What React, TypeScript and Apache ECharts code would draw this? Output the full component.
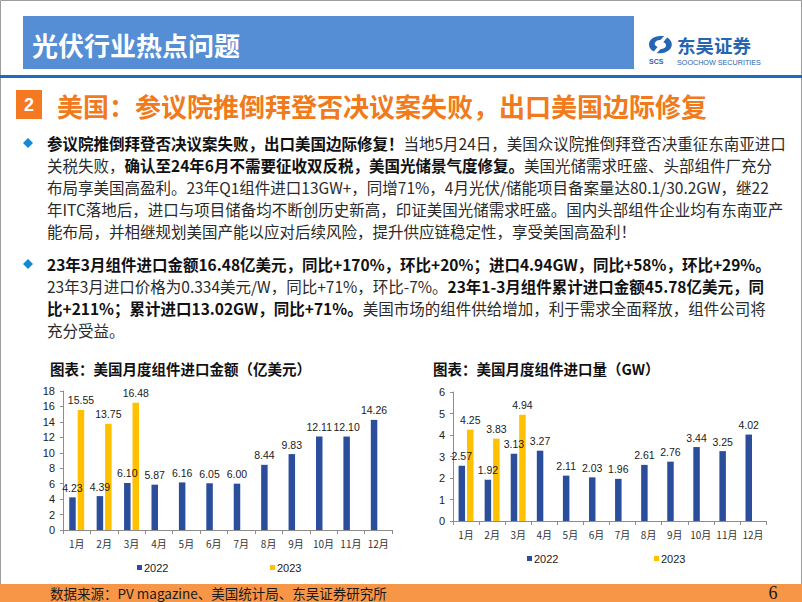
import React, { useEffect, useRef } from 'react';
import * as echarts from 'echarts';

// ---------- data ----------
const months = ['1月', '2月', '3月', '4月', '5月', '6月', '7月', '8月', '9月', '10月', '11月', '12月'];
const amount2022 = [4.23, 4.39, 6.1, 5.87, 6.16, 6.05, 6.0, 8.44, 9.83, 12.11, 12.1, 14.26];
const amount2023 = [15.55, 13.75, 16.48, null, null, null, null, null, null, null, null, null];
const volume2022 = [2.57, 1.92, 3.13, 3.27, 2.11, 2.03, 1.96, 2.61, 2.76, 3.44, 3.25, 4.02];
const volume2023 = [4.25, 3.83, 4.94, null, null, null, null, null, null, null, null, null];
const seriesNames = ['2022', '2023'];
const amountAxis = { min: 0, max: 18, interval: 2 };
const volumeAxis = { min: 0, max: 6, interval: 1 };

const headerTitle = '光伏行业热点问题';
const sectionNo = '2';
const sectionTitle = '美国：参议院推倒拜登否决议案失败，出口美国边际修复';
const chartTitleLeft = '图表：美国月度组件进口金额（亿美元）';
const chartTitleRight = '图表：美国月度组件进口量（GW）';
const sourceText = '数据来源：PV magazine、美国统计局、东吴证券研究所';
const pageNo = '6';

// each line: list of [style, text]
const para1: [string, string][][] = [
  [['b', '参议院推倒拜登否决议案失败，出口美国边际修复！'], ['n', '当地5月24日，美国众议院推倒拜登否决重征东南亚进口']],
  [['n', '关税失败，'], ['b', '确认至24年6月不需要征收双反税，美国光储景气度修复。'], ['n', '美国光储需求旺盛、头部组件厂充分']],
  [['n', '布局享美国高盈利。23年Q1组件进口13GW+，同增71%，4月光伏/储能项目备案量达80.1/30.2GW，继22']],
  [['n', '年ITC落地后，进口与项目储备均不断创历史新高，印证美国光储需求旺盛。国内头部组件企业均有东南亚产']],
  [['n', '能布局，并相继规划美国产能以应对后续风险，提升供应链稳定性，享受美国高盈利！']],
];
const para2: [string, string][][] = [
  [['b', '23年3月组件进口金额16.48亿美元，同比+170%，环比+20%；进口4.94GW，同比+58%，环比+29%。']],
  [['n', '23年3月进口价格为0.334美元/W，同比+71%，环比-7%。'], ['b', '23年1-3月组件累计进口金额45.78亿美元，同']],
  [['b', '比+211%；累计进口13.02GW，同比+71%。'], ['n', '美国市场的组件供给增加，利于需求全面释放，组件公司将']],
  [['n', '充分受益。']],
];

const CJK = '"Noto Sans CJK SC", "Noto Sans", sans-serif';
const ARIAL = '"Liberation Sans", Arial, sans-serif';
const BLUE_BAR = '#2A4E9B';
const YELLOW_BAR = '#FFC000';

let registered = false;
function registerLogo() {
  if (registered) return;
  registered = true;
  const d =
    'M12 0 C5 0 0 5 0 11 C0 15 2 18 5 20 L9 14 C7 13 6 12 6 10 C6 7 9 5 12 5 L16 0 Z M12 22 C19 22 24 17 24 11 C24 7 22 4 19 2 L15 8 C17 9 18 10 18 12 C18 15 15 17 12 17 L8 22 Z';
  echarts.graphic.registerShape('scslogo', echarts.graphic.extendPath(d, {}) as any);
}

function textLine(x: number, y: number, segs: [string, string][], fontSize: number) {
  const text = segs.map(([s, t]) => `{${s}|${t}}`).join('');
  return {
    type: 'text',
    x,
    y,
    style: {
      text,
      fontSize,
      fontFamily: CJK,
      verticalAlign: 'middle',
      textVerticalAlign: 'middle',
      rich: {
        b: { fontSize, fontFamily: CJK, fontWeight: 'bold', fill: '#111', color: '#111' },
        n: { fontSize, fontFamily: CJK, fontWeight: 'normal', fill: '#2a2a2a', color: '#2a2a2a' },
      },
    },
  };
}

function diamond(cx: number, cy: number, r: number) {
  return {
    type: 'polygon',
    shape: { points: [[cx, cy - r], [cx + r, cy], [cx, cy + r], [cx - r, cy]] },
    style: { fill: '#1589D6' },
  };
}

function simpleText(x: number, y: number, text: string, opts: any) {
  return {
    type: 'text',
    x,
    y,
    style: {
      text,
      verticalAlign: 'middle',
      textVerticalAlign: 'middle',
      align: opts.align || 'left',
      textAlign: opts.align || 'left',
      ...opts,
    },
  };
}

export default function App() {
  const ref = useRef<HTMLDivElement>(null);
  useEffect(() => {
    if (!ref.current) return;
    registerLogo();
    const chart = echarts.init(ref.current, undefined, { renderer: 'svg' });

    const graphics: any[] = [];
    // page border
    graphics.push({ type: 'rect', shape: { x: 0.5, y: 0.5, width: 801, height: 601 }, style: { fill: 'none', stroke: '#9d9d9d', lineWidth: 1 } });
    // header
    graphics.push({ type: 'rect', shape: { x: 23, y: 16, width: 611, height: 53 }, style: { fill: '#558ED5' } });
    graphics.push(simpleText(32, 44, headerTitle, { fill: '#ffffff', fontSize: 26, fontWeight: 'bold', fontFamily: CJK }));
    graphics.push({ type: 'rect', shape: { x: 0, y: 75, width: 802, height: 3 }, style: { fill: '#1B6CBE' } });
    // logo
    graphics.push({ type: 'scslogo', x: 649, y: 36, scaleX: 0.95, scaleY: 0.78, style: { fill: '#2466B2' } });
    graphics.push(simpleText(649, 61, 'SCS', { fill: '#2466B2', fontSize: 7, lineHeight: 8, fontWeight: 'bold', fontFamily: ARIAL }));
    graphics.push(simpleText(677, 45, '东吴证券', { fill: '#2466B2', fontSize: 18.5, lineHeight: 18, fontWeight: 'bold', fontFamily: CJK }));
    graphics.push(simpleText(677, 62.5, 'SOOCHOW SECURITIES', { fill: '#2466B2', fontSize: 7.2, lineHeight: 8, fontFamily: ARIAL }));
    // section title
    graphics.push({ type: 'rect', shape: { x: 16, y: 90, width: 26, height: 29 }, style: { fill: '#F47920' } });
    graphics.push(simpleText(29, 105, sectionNo, { fill: '#ffffff', fontSize: 18, fontWeight: 'bold', fontFamily: ARIAL, align: 'center' }));
    graphics.push(simpleText(57, 105, sectionTitle, { fill: '#F07A1C', fontSize: 26, fontWeight: 'bold', fontFamily: CJK }));
    // bullets
    graphics.push(diamond(28, 143, 5));
    para1.forEach((segs, i) => graphics.push(textLine(47, 143 + i * 22, segs, 15.5)));
    graphics.push(diamond(28, 264, 5));
    para2.forEach((segs, i) => graphics.push(textLine(47, 264 + i * 22, segs, 15.5)));
    // chart titles
    graphics.push(simpleText(50, 368, chartTitleLeft, { fill: '#111', fontSize: 14.5, fontWeight: 'bold', fontFamily: CJK }));
    graphics.push(simpleText(433, 368, chartTitleRight, { fill: '#111', fontSize: 14.5, fontWeight: 'bold', fontFamily: CJK }));
    // footer
    graphics.push({ type: 'rect', shape: { x: 0, y: 584, width: 802, height: 18 }, style: { fill: '#F79646' } });
    graphics.push(simpleText(50, 593, sourceText, { fill: '#1a1a1a', fontSize: 13.5, fontFamily: CJK }));
    graphics.push(simpleText(773, 593, pageNo, { fill: '#1a1a1a', fontSize: 18, fontFamily: '"Liberation Serif", serif', align: 'center' }));

    const axisLineStyle = { color: '#8c8c8c', width: 1 };
    const makeX = (gridIndex: number) => ({
      type: 'category',
      gridIndex,
      data: months,
      axisLine: { show: true, lineStyle: axisLineStyle },
      axisTick: { show: true, length: 4, lineStyle: axisLineStyle },
      axisLabel: { interval: 0, fontSize: 10, fontFamily: CJK, color: '#333', margin: 8 },
    });
    const makeY = (gridIndex: number, cfg: { min: number; max: number; interval: number }) => ({
      type: 'value',
      gridIndex,
      min: cfg.min,
      max: cfg.max,
      interval: cfg.interval,
      axisLine: { show: true, lineStyle: axisLineStyle },
      axisTick: { show: true, length: 3, lineStyle: axisLineStyle },
      splitLine: { show: false },
      axisLabel: { fontSize: 11, fontFamily: ARIAL, color: '#222', margin: 8 },
    });
    const label = {
      show: true,
      position: 'top',
      distance: 4,
      fontSize: 10.5,
      fontFamily: ARIAL,
      color: '#1a1a1a',
      formatter: (p: any) => (p.value == null ? '' : Number(p.value).toFixed(2)),
    };
    const bar = (name: string, data: (number | null)[], color: string, idx: number) => ({
      type: 'bar',
      name,
      xAxisIndex: idx,
      yAxisIndex: idx,
      data,
      barWidth: 6.5,
      barGap: '30%',
      itemStyle: { color },
      label,
    });
    const legend = (name: string, left: number, top: number) => ({
      data: [name],
      left,
      top,
      icon: 'rect',
      itemWidth: 5,
      itemHeight: 5,
      padding: 0,
      selectedMode: false,
      textStyle: { fontSize: 11, fontFamily: ARIAL, color: '#1a1a1a', padding: [0, 0, 0, -3] },
    });

    chart.setOption({
      animation: false,
      backgroundColor: '#ffffff',
      grid: [
        { left: 63, top: 391, width: 329, height: 139, containLabel: false },
        { left: 453, top: 392, width: 313, height: 129, containLabel: false },
      ],
      xAxis: [makeX(0), makeX(1)],
      yAxis: [makeY(0, amountAxis), makeY(1, volumeAxis)],
      legend: [
        legend(seriesNames[0], 137, 562),
        legend(seriesNames[1], 270, 562),
        legend(seriesNames[0], 527, 553),
        legend(seriesNames[1], 654, 553),
      ],
      series: [
        bar(seriesNames[0], amount2022, BLUE_BAR, 0),
        bar(seriesNames[1], amount2023, YELLOW_BAR, 0),
        bar(seriesNames[0], volume2022, BLUE_BAR, 1),
        bar(seriesNames[1], volume2023, YELLOW_BAR, 1),
      ],
      graphic: graphics,
    });
    return () => chart.dispose();
  }, []);
  return <div ref={ref} style={{ position: 'absolute', left: 0, top: 0, width: 802, height: 602 }} />;
}
